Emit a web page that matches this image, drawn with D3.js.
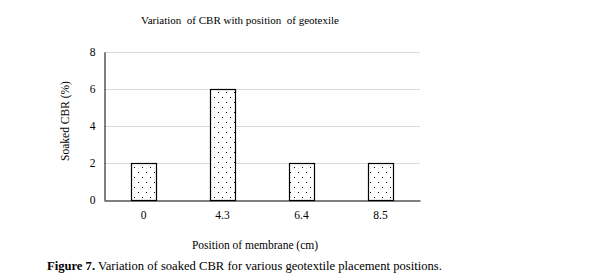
<!DOCTYPE html>
<html><head><meta charset="utf-8">
<script src="https://cdn.jsdelivr.net/npm/d3@7"></script>
<style>body{margin:0;background:#fff}svg{display:block}svg text{font-family:"Liberation Serif","Times New Roman",serif !important}</style>
</head><body><svg id="c" width="608" height="280"></svg>
<script>
const categories = ["0", "4.3", "6.4", "8.5"];
const values = [2, 6, 2, 2];
const yTicks = [0, 2, 4, 6, 8];
const title = "Variation  of CBR with position  of geotexile";
const xTitle = "Position of membrane (cm)";
const yTitle = "Soaked CBR (%)";

const svg = d3.select("#c");
const m = {l:104, r:420, t:52, b:200};
const x = d3.scaleBand().domain(categories).range([m.l, m.r]).paddingInner(0.68).paddingOuter(0.34);
const y = d3.scaleLinear().domain([0, 8]).range([m.b, m.t]);

const defs = svg.append("defs");
const pat = defs.append("pattern").attr("id","dots").attr("patternUnits","userSpaceOnUse")
  .attr("width",8).attr("height",10);
pat.append("rect").attr("width",8).attr("height",10).attr("fill","#fff");
pat.append("rect").attr("x",2).attr("y",2).attr("width",1).attr("height",1).attr("fill","#000");
pat.append("rect").attr("x",6).attr("y",7).attr("width",1).attr("height",1).attr("fill","#000");

// gridlines
svg.append("g").selectAll("line").data(yTicks.filter(d=>d>0)).join("line")
  .attr("x1", m.l).attr("x2", m.r).attr("y1", d=>y(d)+0.5).attr("y2", d=>y(d)+0.5)
  .attr("stroke","#d9d9d9").attr("stroke-width",1);

// bars
svg.append("g").selectAll("rect").data(values).join("rect")
  .attr("x",(d,i)=>Math.round(x(categories[i]))+0.5)
  .attr("y",d=>y(d)+0.5)
  .attr("width",Math.round(x.bandwidth()))
  .attr("height",d=>y(0)-y(d))
  .attr("fill","url(#dots)").attr("stroke","#000").attr("stroke-width",1.2);

// axes
const yAxis = d3.axisLeft(y).tickValues(yTicks).tickSize(0).tickPadding(9);
const gy = svg.append("g").attr("transform",`translate(${m.l+0.5},0)`).call(yAxis);
gy.select(".domain").attr("stroke","#000");
gy.selectAll("text").attr("font-size",11.5).attr("fill","#000");

const xAxis = d3.axisBottom(x).tickSize(0).tickPadding(10);
const gx = svg.append("g").attr("transform",`translate(0,${m.b+0.5})`).call(xAxis);
gx.select(".domain").attr("stroke","#000").attr("stroke-width",1.2);
gx.selectAll("text").attr("font-size",11.5).attr("fill","#000");

svg.append("text").attr("x",240).attr("y",24).attr("text-anchor","middle")
  .attr("font-size",11).style("white-space","pre").text(title);
svg.append("text").attr("x",255).attr("y",249).attr("text-anchor","middle")
  .attr("font-size",11.5).text(xTitle);
svg.append("text").attr("transform","translate(69,121) rotate(-90)").attr("text-anchor","middle")
  .attr("font-size",11.5).text(yTitle);

const cap = svg.append("text").attr("x",47).attr("y",270).attr("font-size",12.6);
cap.append("tspan").attr("font-weight","bold").text("Figure 7.");
cap.append("tspan").text(" Variation of soaked CBR for various geotextile placement positions.");
</script></body></html>
